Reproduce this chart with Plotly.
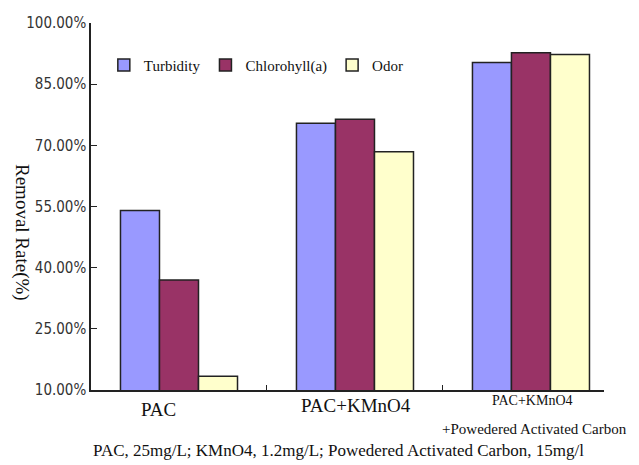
import plotly.graph_objects as go

categories = ["PAC", "PAC+KMnO4", "PAC+KMnO4+Powedered Activated Carbon"]
turbidity = [54.0, 75.4, 90.3]
chlorophyll = [37.0, 76.4, 92.7]
odor = [13.4, 68.4, 92.3]
series_names = ["Turbidity", "Chlorohyll(a)", "Odor"]
colors = ["#9999FF", "#993366", "#FFFFCC"]
tick_vals = [10, 25, 40, 55, 70, 85, 100]
tick_text = ["10.00%", "25.00%", "40.00%", "55.00%", "70.00%", "85.00%", "100.00%"]

fig = go.Figure()
for name, vals, col in zip(series_names, [turbidity, chlorophyll, odor], colors):
    fig.add_trace(go.Bar(
        x=categories, y=vals, name=name,
        marker=dict(color=col, line=dict(color="#222222", width=1.5)),
    ))

fig.update_layout(
    width=639, height=465,
    margin=dict(l=91, r=35, t=23, b=75),
    paper_bgcolor="white", plot_bgcolor="white",
    barmode="group", bargap=0.335, bargroupgap=0,
    font=dict(family="Liberation Serif, Times New Roman, serif", color="#111111"),
    showlegend=True,
    legend=dict(orientation="h", x=0.025, y=0.885, xanchor="left", yanchor="middle",
                font=dict(size=15, family="Liberation Serif, Times New Roman, serif", color="#111111"),
                bgcolor="rgba(0,0,0,0)", traceorder="normal"),
    xaxis=dict(range=[-0.5, 2.415], showline=True, linecolor="#222222", linewidth=1.5,
               ticks="inside", ticklen=5, tickcolor="#222222", tickson="boundaries",
               showticklabels=False, showgrid=False, zeroline=False),
    yaxis=dict(range=[10, 100], showline=True, linecolor="#222222", linewidth=1.5,
               tickvals=tick_vals, ticktext=tick_text,
               ticks="inside", ticklen=6, tickcolor="#222222",
               tickfont=dict(family="DejaVu Sans Condensed, Liberation Sans Narrow, Arial Narrow, sans-serif", size=15, color="#333333"),
               showgrid=False, zeroline=False),
)

ann = [
    dict(text="PAC", x=(158-91)/513, y=409, size=19),
    dict(text="PAC+KMnO4", x=(356-91)/513, y=405, size=19),
    dict(text="PAC+KMnO4", x=(532-91)/513, y=401, size=14),
    dict(text="+Powedered Activated Carbon", x=(534-91)/513, y=429, size=15),
    dict(text="PAC, 25mg/L; KMnO4, 1.2mg/L; Powedered Activated Carbon, 15mg/l", x=(338-91)/513, y=451, size=17),
]
for a in ann:
    fig.add_annotation(text=a["text"], xref="paper", yref="paper", x=a["x"],
                       y=(465 - 75 - a["y"]) / (465 - 23 - 75) * 1.0,
                       xanchor="center", yanchor="middle", showarrow=False,
                       font=dict(size=a["size"], family="Liberation Serif, serif", color="#111111"))
fig.add_annotation(text="Removal Rate(%)", xref="paper", yref="paper",
                   x=(22-91)/513, y=(390-232)/367, textangle=90,
                   xanchor="center", yanchor="middle", showarrow=False,
                   font=dict(size=19, family="Liberation Serif, serif", color="#111111"))

fig.write_html("out.html")
